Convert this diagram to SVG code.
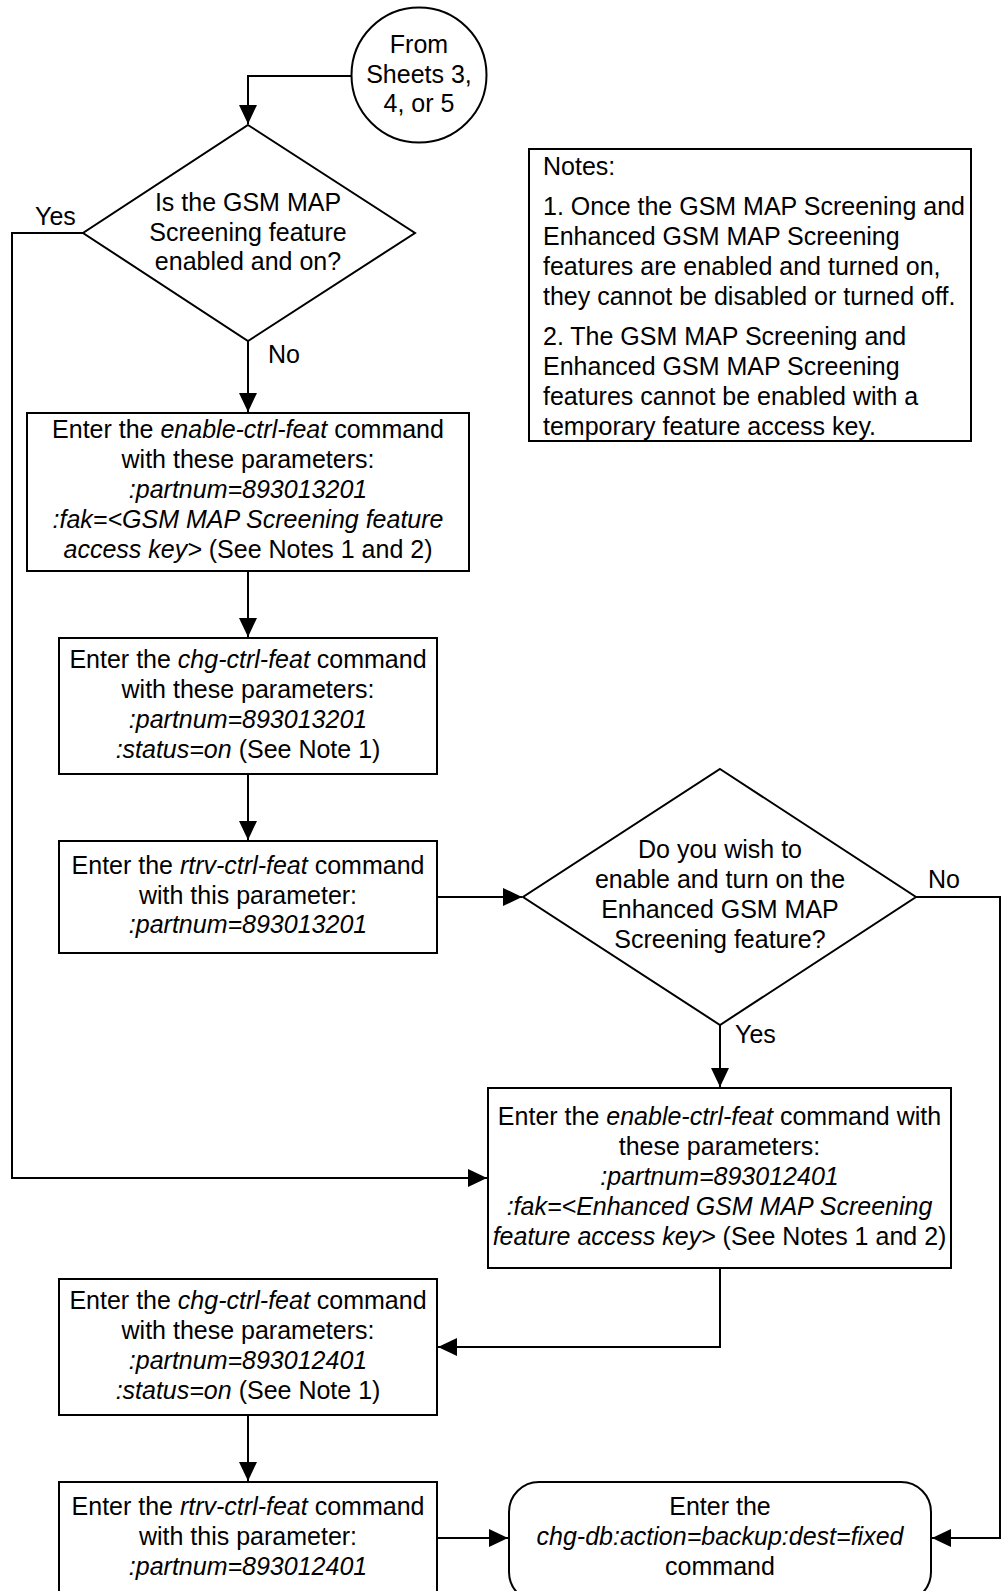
<svg xmlns="http://www.w3.org/2000/svg" width="1005" height="1591" viewBox="0 0 1005 1591">
<style>
.s{fill:#fff;stroke:#000;stroke-width:2}
.c{fill:none;stroke:#000;stroke-width:2}
text{font-family:"Liberation Sans",Arial,sans-serif;font-size:25px;fill:#000}
.m{text-anchor:middle}
.i{font-style:italic}
</style>
<defs>
<marker id="ah" viewBox="0 0 19 18" markerWidth="19" markerHeight="18" refX="19" refY="9" orient="auto" markerUnits="userSpaceOnUse">
<path d="M0,0 L19,9 L0,18 z" fill="#000"/>
</marker>
</defs>
<rect width="1005" height="1591" fill="#fff"/>
<g id="connectors">
<path class="c" d="M351.5,76 H248 V124" marker-end="url(#ah)"/>
<path class="c" d="M248,341 V412" marker-end="url(#ah)"/>
<path class="c" d="M83,233 H12 V1178 H487" marker-end="url(#ah)"/>
<path class="c" d="M248,571 V637" marker-end="url(#ah)"/>
<path class="c" d="M248,774 V840" marker-end="url(#ah)"/>
<path class="c" d="M437,897 H522" marker-end="url(#ah)"/>
<path class="c" d="M720,1025 V1087" marker-end="url(#ah)"/>
<path class="c" d="M916,897 H1000 V1538 H932" marker-end="url(#ah)"/>
<path class="c" d="M720,1268 V1347 H438" marker-end="url(#ah)"/>
<path class="c" d="M248,1415 V1481" marker-end="url(#ah)"/>
<path class="c" d="M437,1538 H508" marker-end="url(#ah)"/>
<text x="35" y="225">Yes</text>
<text x="268" y="363">No</text>
<text x="928" y="888">No</text>
<text x="735" y="1043">Yes</text>
</g>
<g id="start">
<circle class="s" cx="419" cy="75" r="67.5"/>
<text class="m" x="419" y="53">From</text>
<text class="m" x="419" y="82.5">Sheets 3,</text>
<text class="m" x="419" y="112">4, or 5</text>
</g>
<g id="decision1">
<path class="s" d="M248,125 L415,233 L248,341 L83,233 z"/>
<text class="m" x="248" y="211">Is the GSM MAP</text>
<text class="m" x="248" y="240.5">Screening feature</text>
<text class="m" x="248" y="270">enabled and on?</text>
</g>
<g id="notes">
<rect class="s" x="529" y="149" width="442" height="292"/>
<text x="543" y="175">Notes:</text>
<text x="543" y="215">1. Once the GSM MAP Screening and</text>
<text x="543" y="245">Enhanced GSM MAP Screening</text>
<text x="543" y="275">features are enabled and turned on,</text>
<text x="543" y="305">they cannot be disabled or turned off.</text>
<text x="543" y="345">2. The GSM MAP Screening and</text>
<text x="543" y="375">Enhanced GSM MAP Screening</text>
<text x="543" y="405">features cannot be enabled with a</text>
<text x="543" y="435">temporary feature access key.</text>
</g>
<g id="enable1">
<rect class="s" x="27" y="413" width="442" height="158"/>
<text class="m" x="248" y="438">Enter the <tspan class="i">enable-ctrl-feat</tspan> command</text>
<text class="m" x="248" y="468">with these parameters:</text>
<text class="m i" x="248" y="498">:partnum=893013201</text>
<text class="m i" x="248" y="528">:fak=&lt;GSM MAP Screening feature</text>
<text class="m" x="248" y="558"><tspan class="i">access key&gt;</tspan> (See Notes 1 and 2)</text>
</g>
<g id="chg1">
<rect class="s" x="59" y="638" width="378" height="136"/>
<text class="m" x="248" y="668">Enter the <tspan class="i">chg-ctrl-feat</tspan> command</text>
<text class="m" x="248" y="698">with these parameters:</text>
<text class="m i" x="248" y="728">:partnum=893013201</text>
<text class="m" x="248" y="758"><tspan class="i">:status=on</tspan> (See Note 1)</text>
</g>
<g id="rtrv1">
<rect class="s" x="59" y="841" width="378" height="112"/>
<text class="m" x="248" y="874">Enter the <tspan class="i">rtrv-ctrl-feat</tspan> command</text>
<text class="m" x="248" y="904">with this parameter:</text>
<text class="m i" x="248" y="933">:partnum=893013201</text>
</g>
<g id="decision2">
<path class="s" d="M720,769 L916,897 L720,1025 L523,897 z"/>
<text class="m" x="720" y="858">Do you wish to</text>
<text class="m" x="720" y="888">enable and turn on the</text>
<text class="m" x="720" y="918">Enhanced GSM MAP</text>
<text class="m" x="720" y="948">Screening feature?</text>
</g>
<g id="enable2">
<rect class="s" x="488" y="1088" width="463" height="180"/>
<text class="m" x="719.5" y="1125">Enter the <tspan class="i">enable-ctrl-feat</tspan> command with</text>
<text class="m" x="719.5" y="1155">these parameters:</text>
<text class="m i" x="719.5" y="1185">:partnum=893012401</text>
<text class="m i" x="719.5" y="1215">:fak=&lt;Enhanced GSM MAP Screening</text>
<text class="m" x="719.5" y="1245"><tspan class="i">feature access key&gt;</tspan> (See Notes 1 and 2)</text>
</g>
<g id="chg2">
<rect class="s" x="59" y="1279" width="378" height="136"/>
<text class="m" x="248" y="1309">Enter the <tspan class="i">chg-ctrl-feat</tspan> command</text>
<text class="m" x="248" y="1339">with these parameters:</text>
<text class="m i" x="248" y="1369">:partnum=893012401</text>
<text class="m" x="248" y="1399"><tspan class="i">:status=on</tspan> (See Note 1)</text>
</g>
<g id="rtrv2">
<rect class="s" x="59" y="1482" width="378" height="112"/>
<text class="m" x="248" y="1515">Enter the <tspan class="i">rtrv-ctrl-feat</tspan> command</text>
<text class="m" x="248" y="1545">with this parameter:</text>
<text class="m i" x="248" y="1575">:partnum=893012401</text>
</g>
<g id="backup">
<rect class="s" x="509" y="1482" width="422" height="120" rx="30" ry="30"/>
<text class="m" x="720" y="1515">Enter the</text>
<text class="m i" x="720" y="1545">chg-db:action=backup:dest=fixed</text>
<text class="m" x="720" y="1575">command</text>
</g>
</svg>
